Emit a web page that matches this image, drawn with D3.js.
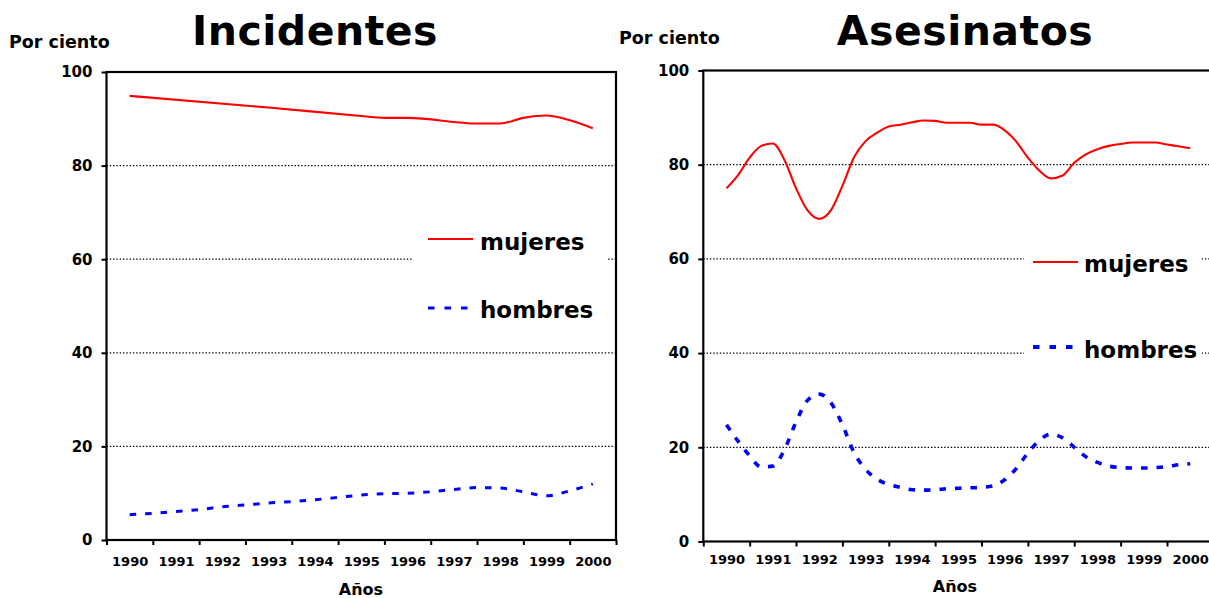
<!DOCTYPE html>
<html>
<head>
<meta charset="utf-8">
<script src="https://cdn.jsdelivr.net/npm/d3@7"></script>
<style>
  html, body { margin: 0; padding: 0; background: #fff; }
  svg { display: block; }
  text { font-family: "DejaVu Sans", Verdana, sans-serif; font-weight: bold; fill: #000; }
</style>
</head>
<body>
<svg id="chart" width="1209" height="598"></svg>
<script>
// Category labels and value ticks
const years = [1990, 1991, 1992, 1993, 1994, 1995, 1996, 1997, 1998, 1999, 2000];
const yTicks = [0, 20, 40, 60, 80, 100];
const gridValues = [20, 40, 60, 80];
const seriesNames = ["mujeres", "hombres"];

// Incidentes – mujeres
const incMujeresT = [1990, 1993, 1995, 1995.5, 1996, 1997.5, 1998, 1998.5, 1999, 1999.5, 2000];
const incMujeresV = [94.9, 92.4, 90.6, 90.2, 90.2, 89.0, 89.0, 90.2, 90.7, 89.7, 88.0];

// Incidentes – hombres (half-year steps)
const halfYears = d3.range(1990, 2000.001, 0.5);
const incHombresV = [5.4, 5.7, 6.1, 6.5, 7.1, 7.5, 7.9, 8.2, 8.6, 9.1, 9.6,
                     9.9, 10.0, 10.3, 10.8, 11.2, 11.1, 10.3, 9.45, 10.5, 12.0];

// Asesinatos – quarter-year steps
const quarters = d3.range(1990, 2000.001, 0.25);
const asesMujeresV = [75.0, 77.8, 81.5, 84.0, 84.5, 81.0, 75.0, 70.3, 68.5, 70.3,
                      75.5, 81.6, 85.0, 86.8, 88.1, 88.5, 89.0, 89.4, 89.3, 88.9,
                      88.9, 88.9, 88.5, 88.5, 87.3, 84.9, 81.5, 78.7, 77.1, 77.7,
                      80.4, 82.2, 83.3, 84.0, 84.4, 84.7, 84.7, 84.7, 84.3, 83.9, 83.5];
const asesHombresV = [24.8, 21.3, 18.2, 15.8, 16.0, 19.5, 25.4, 30.0, 31.3, 29.5,
                      24.8, 18.9, 15.3, 13.2, 12.1, 11.5, 11.0, 10.9, 11.0, 11.2,
                      11.3, 11.4, 11.5, 11.8, 13.1, 15.5, 18.8, 21.5, 22.8, 22.0,
                      20.0, 18.0, 16.8, 16.0, 15.7, 15.6, 15.6, 15.7, 15.9, 16.3, 16.5];

const svg = d3.select("#chart");

const panels = [
  {
    title: "Incidentes", titleX: 315, titleY: 45,
    unitX: 9, unitY: 48,
    x0: 106.5, x1: 616, yTop: 72, yBot: 540,
    labelPad: 17, xTitleX: 361, xTitleY: 595,
    mujeres: incMujeresT.map((t, i) => [t, incMujeresV[i]]),
    hombres: halfYears.map((t, i) => [t, incHombresV[i]]),
    dashW: 3,
    legend: { box: [412, 220, 196, 112], lineX: 428, mY: 239, mBase: 250, hY: 308, hBase: 318, textX: 480, dashW: 3 }
  },
  {
    title: "Asesinatos", titleX: 965, titleY: 45,
    unitX: 619, unitY: 44,
    x0: 703.3, x1: 703.3 + 11 * 46.37, yTop: 70.5, yBot: 541.5,
    labelPad: 13.5, xTitleX: 955, xTitleY: 592,
    mujeres: quarters.map((t, i) => [t, asesMujeresV[i]]),
    hombres: quarters.map((t, i) => [t, asesHombresV[i]]),
    dashW: 3.6,
    legend: { box: [1024, 240, 178, 132], lineX: 1033, mY: 262, mBase: 272, hY: 347, hBase: 358, textX: 1084, dashW: 4 }
  }
];

panels.forEach(p => {
  const x = d3.scaleLinear().domain([1989.5, 2000.5]).range([p.x0, p.x1]);
  const y = d3.scaleLinear().domain([0, 100]).range([p.yBot, p.yTop]);
  const g = svg.append("g");

  // Title and unit label
  g.append("text").attr("x", p.titleX).attr("y", p.titleY)
    .attr("text-anchor", "middle").style("font-size", "41px")
    .style("letter-spacing", "0.5px").text(p.title);
  g.append("text").attr("x", p.unitX).attr("y", p.unitY)
    .style("font-size", "17.5px").text("Por ciento");

  // Dotted gridlines
  g.selectAll(".grid").data(gridValues).join("line")
    .attr("x1", p.x0).attr("x2", p.x1)
    .attr("y1", d => y(d)).attr("y2", d => y(d))
    .attr("stroke", "#000").attr("stroke-width", 1.2)
    .attr("stroke-dasharray", "1.4,1.9");

  // Legend box (white, hides gridlines behind it)
  const L = p.legend;
  g.append("rect").attr("x", L.box[0]).attr("y", L.box[1])
    .attr("width", L.box[2]).attr("height", L.box[3]).attr("fill", "#fff");

  // Plot frame
  g.append("rect").attr("x", p.x0).attr("y", p.yTop)
    .attr("width", p.x1 - p.x0).attr("height", p.yBot - p.yTop)
    .attr("fill", "none").attr("stroke", "#000").attr("stroke-width", 2.2);

  // Y axis
  const yAxis = g.append("g").attr("transform", `translate(${p.x0},0)`)
    .call(d3.axisLeft(y).tickValues(yTicks).tickSize(5).tickSizeOuter(0).tickPadding(9));
  yAxis.select(".domain").remove();
  yAxis.selectAll(".tick line").attr("stroke", "#000").attr("stroke-width", 2);
  yAxis.selectAll("text").style("font-size", "15px")
    .style("font-family", "'DejaVu Sans', Verdana, sans-serif").style("font-weight", "bold");

  // X axis: tick marks between categories
  const bounds = years.map(v => v - 0.5).concat([2000.5]);
  const xTicks = g.append("g").attr("transform", `translate(0,${p.yBot})`)
    .call(d3.axisBottom(x).tickValues(bounds).tickSize(5).tickSizeOuter(0).tickFormat(""));
  xTicks.select(".domain").remove();
  xTicks.selectAll(".tick line").attr("stroke", "#000").attr("stroke-width", 2);

  // X axis: category labels centred
  const xLabels = g.append("g").attr("transform", `translate(0,${p.yBot})`)
    .call(d3.axisBottom(x).tickValues(years).tickSize(0).tickPadding(p.labelPad).tickFormat(d3.format("d")));
  xLabels.select(".domain").remove();
  xLabels.selectAll("text").style("font-size", "13px")
    .style("font-family", "'DejaVu Sans', Verdana, sans-serif").style("font-weight", "bold");

  g.append("text").attr("x", p.xTitleX).attr("y", p.xTitleY)
    .attr("text-anchor", "middle").style("font-size", "16px").text("Años");

  // Series lines
  const line = d3.line().x(d => x(d[0])).y(d => y(d[1])).curve(d3.curveMonotoneX);
  g.append("path").datum(p.mujeres).attr("d", line)
    .attr("fill", "none").attr("stroke", "#ff0000").attr("stroke-width", 2.1)
    .attr("stroke-linejoin", "round");
  g.append("path").datum(p.hombres).attr("d", line)
    .attr("fill", "none").attr("stroke", "#0000ff").attr("stroke-width", p.dashW)
    .attr("stroke-dasharray", "6.5,9");

  // Legend entries
  g.append("line").attr("x1", L.lineX).attr("x2", L.lineX + 45)
    .attr("y1", L.mY).attr("y2", L.mY)
    .attr("stroke", "#ff0000").attr("stroke-width", 2.1);
  g.append("text").attr("x", L.textX).attr("y", L.mBase)
    .style("font-size", "23px").text(seriesNames[0]);
  g.append("line").attr("x1", L.lineX).attr("x2", L.lineX + 42)
    .attr("y1", L.hY).attr("y2", L.hY)
    .attr("stroke", "#0000ff").attr("stroke-width", L.dashW)
    .attr("stroke-dasharray", "6.5,10");
  g.append("text").attr("x", L.textX).attr("y", L.hBase)
    .style("font-size", "23px").text(seriesNames[1]);
});
</script>
</body>
</html>
